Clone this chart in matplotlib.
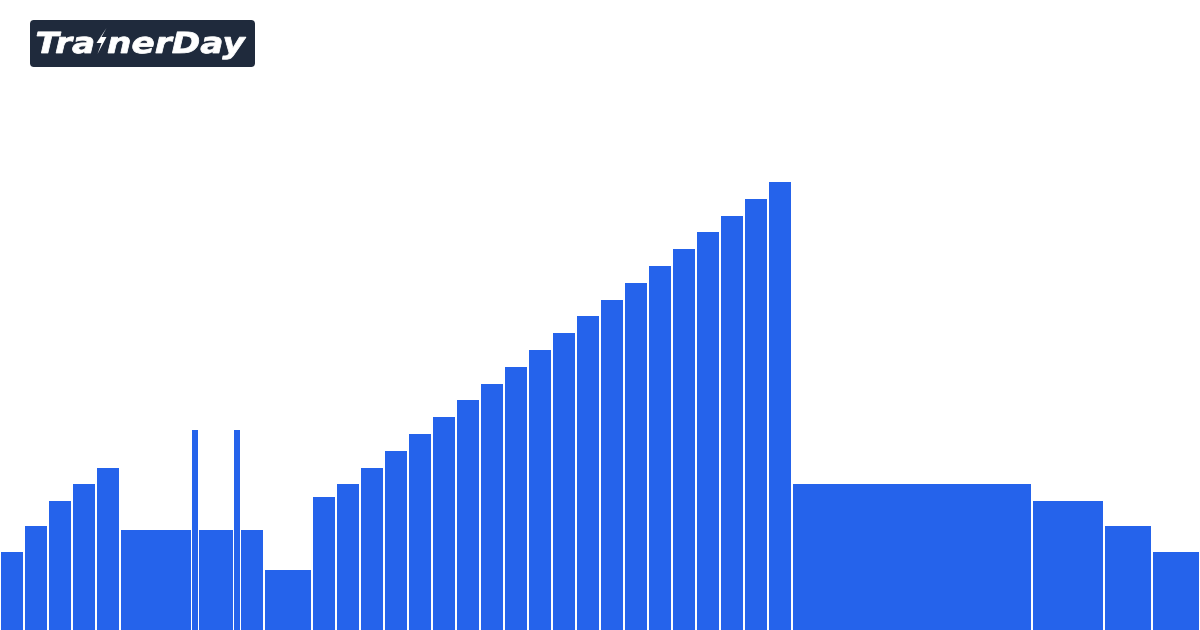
import matplotlib
matplotlib.use("Agg")
import matplotlib.pyplot as plt
from matplotlib.patches import FancyBboxPatch, PathPatch, Polygon
from matplotlib.transforms import IdentityTransform, Affine2D
from matplotlib.textpath import TextPath
from matplotlib.font_manager import FontProperties
import numpy as np

# workout segments: duration (seconds) and intensity (% FTP)
durations = [60, 60, 60, 60, 60, 180, 15, 90, 15, 60, 120,
             60, 60, 60, 60, 60, 60, 60, 60, 60, 60,
             60, 60, 60, 60, 60, 60, 60, 60, 60, 60,
             600, 180, 120, 120]
power = [23.2, 31.0, 38.4, 43.5, 48.2, 29.8, 59.5, 29.8, 59.5, 29.8, 17.9,
         39.6, 43.5, 48.2, 53.3, 58.3, 63.4, 68.5, 73.2, 78.3, 83.3,
         88.4, 93.5, 98.2, 103.3, 108.3, 113.4, 118.5, 123.2, 128.3, 133.3,
         43.5, 38.4, 31.0, 23.2]

BAR_COLOR = "#2563EB"
LOGO_BG = "#1F2A3C"
H = 630  # figure height in px

fig = plt.figure(figsize=(12, 6.3), dpi=100)
ax = fig.add_axes([0, 0, 1, 1])

starts = np.concatenate([[0], np.cumsum(durations)[:-1]])
total = sum(durations)
px = total / 1200.0  # seconds per pixel
for s, d, p in zip(starts, durations, power):
    inset = px if d >= 30 else 0
    ax.bar(s + inset, p, width=d - 2 * inset, align="edge",
           color=BAR_COLOR, linewidth=0)

ax.set_xlim(0, total)
ax.set_ylim(0, H / 3.36)
ax.axis("off")

# logo box (pixel coords)
logo = FancyBboxPatch((30, H - 67), 225, 47,
                      boxstyle="round,pad=0,rounding_size=4",
                      transform=IdentityTransform(), facecolor=LOGO_BG,
                      edgecolor="none", zorder=5)
fig.patches.append(logo)

# logo wordmark: "Tra" + bolt + "nerDay", stretched to fit
fp = FontProperties(family="DejaVu Sans", weight="bold", style="italic")
p1 = TextPath((0, 0), "Tra", size=1, prop=fp)
p2 = TextPath((0, 0), "nerDay", size=1, prop=fp)
e1, e2 = p1.get_extents(), p2.get_extents()
size = 29.0
bolt_w, gap = 12, 1.5
x_left, x_right, base = 37, 246, H - 53
sx = (x_right - x_left - bolt_w - 2 * gap) / ((e1.width + e2.width) * size)

t1 = Affine2D().translate(-e1.x0, 0).scale(size * sx, size).translate(x_left, base)
fig.patches.append(PathPatch(t1.transform_path(p1), facecolor="white",
                             edgecolor="white", linewidth=0.6,
                             transform=IdentityTransform(), zorder=6))
xb = x_left + e1.width * size * sx + gap
t2 = Affine2D().translate(-e2.x0, 0).scale(size * sx, size).translate(xb + bolt_w + gap, base)
fig.patches.append(PathPatch(t2.transform_path(p2), facecolor="white",
                             edgecolor="white", linewidth=0.6,
                             transform=IdentityTransform(), zorder=6))

bolt = [(12, 0), (2, 15), (7, 15), (3, 26), (12, 9), (7, 9)]
bolt_pts = [(xb + bx, H - 28 - by) for bx, by in bolt]
fig.patches.append(Polygon(bolt_pts, closed=True, facecolor="white",
                           edgecolor="none", transform=IdentityTransform(),
                           zorder=6))

fig.savefig("out.png", dpi=100)
